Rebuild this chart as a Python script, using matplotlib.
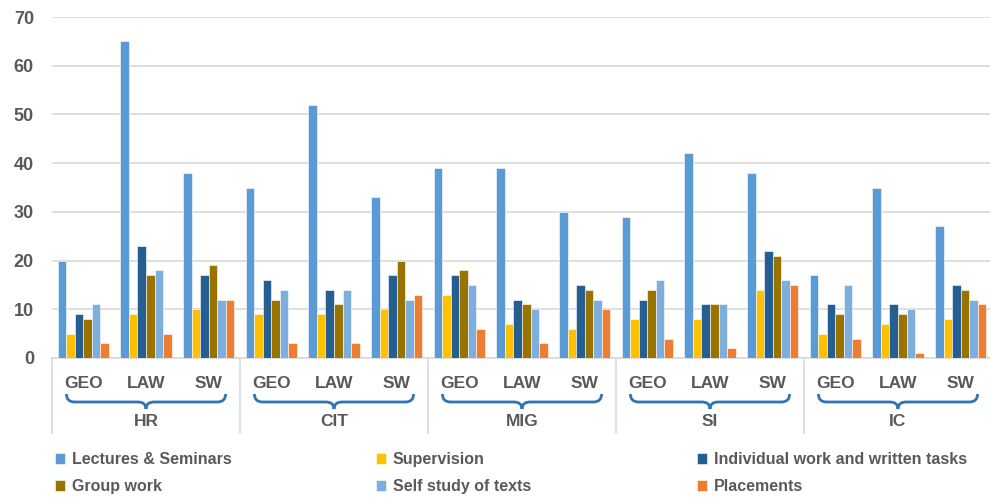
import numpy as np
import matplotlib
matplotlib.use('Agg')
import matplotlib.pyplot as plt
from matplotlib.path import Path
from matplotlib.patches import PathPatch
import matplotlib.transforms as mtransforms

# 字型
plt.rcParams['font.family'] = ['Liberation Sans', 'DejaVu Sans']

# 資料
groups = ['HR', 'CIT', 'MIG', 'SI', 'IC']
subs = ['GEO', 'LAW', 'SW']
series = ['Lectures & Seminars', 'Supervision', 'Individual work and written tasks',
          'Group work', 'Self study of texts', 'Placements']

lectures    = [20, 65, 38, 35, 52, 33, 39, 39, 30, 29, 42, 38, 17, 35, 27]
supervision = [5, 9, 10, 9, 9, 10, 13, 7, 6, 8, 8, 14, 5, 7, 8]
individual  = [9, 23, 17, 16, 14, 17, 17, 12, 15, 12, 11, 22, 11, 11, 15]
group_work  = [8, 17, 19, 12, 11, 20, 18, 11, 14, 14, 11, 21, 9, 9, 14]
self_study  = [11, 18, 12, 14, 14, 12, 15, 10, 12, 16, 11, 16, 15, 10, 12]
placements  = [3, 5, 12, 3, 3, 13, 6, 3, 10, 4, 2, 15, 4, 1, 11]

values = [lectures, supervision, individual, group_work, self_study, placements]
colors = ['#5B9BD5', '#FFC000', '#255E91', '#997300', '#7CAFDD', '#ED7D31']

txt = '#595959'

fig = plt.figure(figsize=(9.9, 4.97), dpi=100)
ax = fig.add_axes([52/990, 1 - 358/497, 1 - 52/990 + 0.002, (358 - 17)/497])

n = len(lectures)
x = np.arange(n)
w = 0.136
bars = []
for k, (vals, c, name) in enumerate(zip(values, colors, series)):
    b = ax.bar(x + (k - 2.5) * w, vals, w, color=c, label=name,
               edgecolor='white', linewidth=0.4, zorder=3)
    bars.append(b)

ax.set_xlim(-0.5, n - 0.5)
ax.set_ylim(0, 70)
ax.set_yticks(range(0, 71, 10))
ax.yaxis.grid(True, color='#D9D9D9', linewidth=1.2, zorder=0)
for s in ['top', 'right', 'left']:
    ax.spines[s].set_visible(False)
ax.spines['bottom'].set_color('#D9D9D9')
ax.spines['bottom'].set_linewidth(1.2)
ax.tick_params(axis='y', length=0, labelsize=13, labelcolor=txt, pad=13)
for lab in ax.get_yticklabels():
    lab.set_fontweight('bold')
ax.set_xticks([])

# 類別軸
trans = mtransforms.blended_transform_factory(ax.transData, fig.transFigure)
def fy(py):
    return 1 - py / 497

for i in range(n):
    ax.text(i, fy(384), subs[i % 3], transform=trans, ha='center', va='center',
            fontsize=12.5, color=txt, fontweight='bold')

for g in range(len(groups) + 1):
    xs = g * 3 - 0.5
    ax.plot([xs, xs], [fy(358), fy(433)], transform=trans, color='#D9D9D9',
            linewidth=1.2, clip_on=False)

for g, name in enumerate(groups):
    cx = g * 3 + 1
    ax.text(cx, fy(421), name, transform=trans, ha='center', va='center',
            fontsize=12.5, color=txt, fontweight='bold')
    hw = 1.27
    top, mid, tip = fy(394), fy(402), fy(409)
    r = 0.13
    verts = [(cx - hw, top), (cx - hw, mid), (cx - hw + r, mid), (cx - hw + r, mid),
             (cx - r, mid), (cx - r, mid), (cx, mid), (cx, tip),
             (cx, mid), (cx + r, mid), (cx + r, mid),
             (cx + hw - r, mid), (cx + hw - r, mid), (cx + hw, mid), (cx + hw, top)]
    codes = [Path.MOVETO, Path.CURVE3, Path.CURVE3, Path.LINETO,
             Path.LINETO, Path.LINETO, Path.CURVE3, Path.CURVE3,
             Path.CURVE3, Path.CURVE3, Path.LINETO,
             Path.LINETO, Path.LINETO, Path.CURVE3, Path.CURVE3]
    ax.add_patch(PathPatch(Path(verts, codes), transform=trans, facecolor='none',
                           edgecolor='#2E75B6', linewidth=2, clip_on=False))

# 圖例：每欄一個
col_x = [55, 376, 697]
for c in range(3):
    idx = [c, c + 3]
    leg = fig.legend([bars[i] for i in idx], [series[i] for i in idx],
                     loc='upper left', bbox_to_anchor=(col_x[c] / 990, fy(452)),
                     frameon=False, fontsize=11.5, handlelength=0.65, handleheight=0.65,
                     handletextpad=0.4, labelspacing=0.75, borderaxespad=0, borderpad=0)
    for t in leg.get_texts():
        t.set_color(txt)
        t.set_fontweight('bold')

fig.savefig('out.png', dpi=100)
